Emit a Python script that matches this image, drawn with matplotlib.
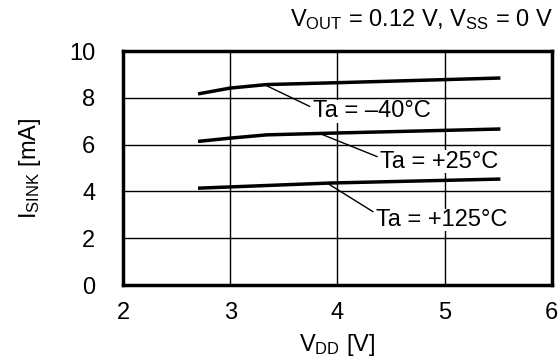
import matplotlib
matplotlib.use("Agg")
import matplotlib.pyplot as plt

plt.rcParams['font.family'] = ['Liberation Sans', 'DejaVu Sans']
plt.rcParams['mathtext.fontset'] = 'custom'
plt.rcParams['mathtext.rm'] = 'Liberation Sans'
plt.rcParams['mathtext.it'] = 'Liberation Sans'

# data
vdd_m40 = [2.70, 3.0, 3.34, 4.0, 5.52]
isink_m40 = [8.17, 8.42, 8.57, 8.65, 8.85]
vdd_p25 = [2.70, 3.0, 3.34, 4.0, 5.52]
isink_p25 = [6.14, 6.28, 6.42, 6.50, 6.67]
vdd_p125 = [2.70, 3.93, 5.52]
isink_p125 = [4.14, 4.36, 4.53]
labels = ["Ta = \u201340\u00b0C", "Ta = +25\u00b0C", "Ta = +125\u00b0C"]
xticks = [2, 3, 4, 5, 6]
yticks = [0, 2, 4, 6, 8, 10]

FS = 17

fig = plt.figure(figsize=(5.58, 3.6), dpi=100)
ax = fig.add_axes([0.2204, 0.2083, 0.989 - 0.2204, 0.858 - 0.2083])

for xs, ys in [(vdd_m40, isink_m40), (vdd_p25, isink_p25), (vdd_p125, isink_p125)]:
    ax.plot(xs, ys, color='black', lw=2.5, solid_capstyle='butt', zorder=3)

# leader lines and labels
leaders = [((3.34, 8.52), (3.74, 7.64), (3.77, 7.42)),
           ((3.85, 6.45), (4.37, 5.49), (4.40, 5.28)),
           ((3.91, 4.34), (4.33, 3.14), (4.36, 2.78))]
for (p0, p1, pt), lab in zip(leaders, labels):
    ax.plot([p0[0], p1[0]], [p0[1], p1[1]], color='black', lw=1.0, zorder=3)
    ax.text(pt[0], pt[1], lab, fontsize=FS, va='center', ha='left', zorder=4,
            bbox=dict(facecolor='white', edgecolor='none', pad=0.3))

ax.set_xlim(2, 6)
ax.set_ylim(0, 10)
ax.set_xticks(xticks)
ax.set_yticks(yticks)
ax.tick_params(length=0, labelsize=FS)
ax.tick_params(axis='x', pad=12)
ax.tick_params(axis='y', pad=20)
ax.grid(True, color='black', lw=1.0)
ax.set_axisbelow(True)
for s in ax.spines.values():
    s.set_linewidth(2.5)

ax.set_xlabel(r'$\mathrm{V_{DD}}$ [V]', fontsize=FS, labelpad=6)
ax.set_ylabel(r'$\mathrm{I_{SINK}}$ [mA]', fontsize=FS, labelpad=19)
fig.text(0.99, 0.945, r'$\mathrm{V_{OUT}}$ = 0.12 V, $\mathrm{V_{SS}}$ = 0 V',
         fontsize=FS, ha='right', va='center')

fig.savefig('out.png', dpi=100)
